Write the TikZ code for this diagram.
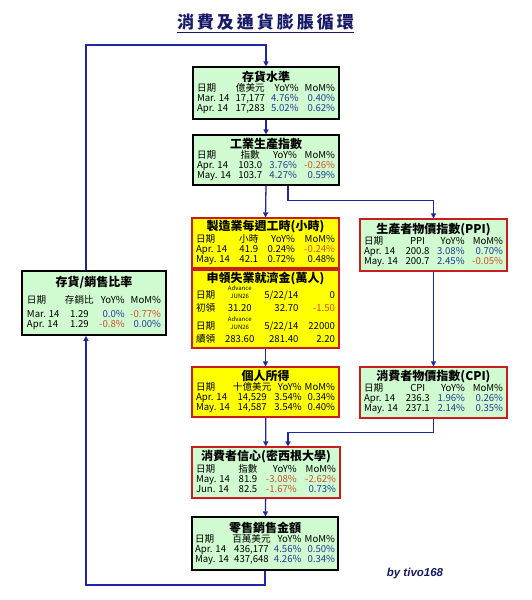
\documentclass[tikz,border=0pt]{standalone}
\usepackage{fontspec}
\setmainfont{Noto Sans CJK TC}
\newfontfamily\sigfont{Liberation Sans}
\usetikzlibrary{arrows.meta}

\definecolor{greenfill}{RGB}{208,250,208}
\definecolor{yellowfill}{RGB}{255,255,0}
\definecolor{boxred}{RGB}{200,30,30}
\definecolor{linkblue}{RGB}{30,40,160}
\definecolor{navy}{RGB}{25,25,105}
\definecolor{posblue}{RGB}{30,60,150}
\definecolor{negred}{RGB}{205,80,40}

\newcommand{\pv}[1]{\textcolor{posblue}{#1}}
\newcommand{\nv}[1]{\textcolor{negred}{#1}}
\newcommand{\adv}{{\fontsize{6}{6.5}\selectfont\shortstack{Advance\\JUN26}}}
\newcommand{\boxtable}[3]{%
  {\fontsize{12}{13}\selectfont\bfseries #2}\\[0pt]
  \setlength{\tabcolsep}{1pt}\renewcommand{\arraystretch}{0.86}%
  \begin{tabular*}{#1}{@{\extracolsep{\fill}}lcrr@{}}#3\end{tabular*}}

\begin{document}
\begin{tikzpicture}[x=1pt,y=-1pt,
  databox/.style={line width=1.2pt,inner sep=1pt,align=center,
    font=\fontsize{9.6}{11}\selectfont},
  greenbox/.style={databox,draw=black,fill=greenfill},
  redgreen/.style={databox,draw=boxred,fill=greenfill},
  yellowbox/.style={databox,draw=boxred,fill=yellowfill},
  link/.style={draw=linkblue,line width=1.3pt,-{Triangle[length=5pt,width=5pt]}}]
\useasboundingbox[fill=white] (0,0) rectangle (532,600);

% title
\node[inner sep=0pt,text=navy,font=\fontsize{17}{19}\selectfont\bfseries] (title) at (265.5,22)
  {消\kern3pt 費\kern3pt 及\kern3pt 通\kern3pt 貨\kern3pt 膨\kern3pt 脹\kern3pt 循\kern3pt 環};
\draw[navy,line width=1pt] ([yshift=-2pt]title.south west) -- ([yshift=-2pt]title.south east);

% boxes
\node[greenbox,minimum width=146pt,minimum height=52pt] (inv) at (266,93)
  {\boxtable{138pt}{存貨水準}{日期 & 億美元 & YoY\% & MoM\% \\
   Mar. 14 & 17,177 & \pv{4.76\%} & \pv{0.40\%} \\
   Apr. 14 & 17,283 & \pv{5.02\%} & \pv{0.62\%}}};
\node[greenbox,minimum width=146pt,minimum height=50pt] (ip) at (266,160)
  {\boxtable{138pt}{工業生產指數}{日期 & 指數 & YoY\% & MoM\% \\
   Apr. 14 & 103.0 & \pv{3.76\%} & \nv{-0.26\%} \\
   May. 14 & 103.7 & \pv{4.27\%} & \pv{0.59\%}}};
\node[yellowbox,minimum width=147pt,minimum height=50pt] (hours) at (265.5,243)
  {\boxtable{139pt}{製造業每週工時(小時)}{日期 & 小時 & YoY\% & MoM\% \\
   Apr. 14 & 41.9 & 0.24\% & \nv{-0.24\%} \\
   May. 14 & 42.1 & 0.72\% & 0.48\%}};
\node[yellowbox,minimum width=147pt,minimum height=78pt] (claims) at (265.5,309)
  {\boxtable{139pt}{申領失業就濟金(萬人)}{日期 & \adv & 5/22/14 & 0 \\[2.5pt]
   初領 & 31.20 & 32.70 & \nv{-1.50} \\[2.5pt]
   日期 & \adv & 5/22/14 & 22000 \\[2.5pt]
   續領 & 283.60 & 281.40 & 2.20}};
\node[redgreen,minimum width=147pt,minimum height=52pt] (ppi) at (433.5,245)
  {\boxtable{139pt}{生產者物價指數(PPI)}{日期 & PPI & YoY\% & MoM\% \\
   Apr. 14 & 200.8 & \pv{3.08\%} & \pv{0.70\%} \\
   May. 14 & 200.7 & \pv{2.45\%} & \nv{-0.05\%}}};
\node[greenbox,line width=1.8pt,minimum width=144pt,minimum height=64pt] (ratio) at (94,303)
  {\boxtable{134pt}{存貨/銷售比率}{\rule{0pt}{14pt}日期 & 存銷比 & YoY\% & MoM\% \\[4pt]
   Mar. 14 & 1.29 & \pv{0.0\%} & \nv{-0.77\%} \\
   Apr. 14 & 1.29 & \nv{-0.8\%} & \pv{0.00\%}}};
\node[yellowbox,minimum width=147pt,minimum height=50pt] (income) at (265.5,392)
  {\boxtable{139pt}{個人所得}{日期 & 十億美元 & YoY\% & MoM\% \\
   Apr. 14 & 14,529 & 3.54\% & 0.34\% \\
   May. 14 & 14,587 & 3.54\% & 0.40\%}};
\node[redgreen,minimum width=147pt,minimum height=51pt] (cpi) at (433.5,392.5)
  {\boxtable{139pt}{消費者物價指數(CPI)}{日期 & CPI & YoY\% & MoM\% \\
   Apr. 14 & 236.3 & \pv{1.96\%} & \pv{0.26\%} \\
   May. 14 & 237.1 & \pv{2.14\%} & \pv{0.35\%}}};
\node[redgreen,minimum width=148pt,minimum height=51pt] (conf) at (266,472.5)
  {\boxtable{140pt}{消費者信心(密西根大學)}{日期 & 指數 & YoY\% & MoM\% \\
   May. 14 & 81.9 & \nv{-3.08\%} & \nv{-2.62\%} \\
   Jun. 14 & 82.5 & \nv{-1.67\%} & \pv{0.73\%}}};
\node[greenbox,minimum width=146pt,minimum height=53pt] (retail) at (265,543.5)
  {\boxtable{140pt}{零售銷售金額}{日期 & 百萬美元 & YoY\% & MoM\% \\
   Apr. 14 & 436,177 & \pv{4.56\%} & \pv{0.50\%} \\
   May. 14 & 437,648 & \pv{4.26\%} & \pv{0.34\%}}};

\node[text=navy,font=\sigfont\bfseries\itshape\fontsize{11.5}{13}\selectfont] (sig) at (415,574) {by tivo168};

% connectors
\coordinate (topleft) at (86,45);
\coordinate (botleft) at (86,585);
\draw[link] (ratio.north -| topleft) -- (topleft) -| (inv.north);
\draw[link] (inv) -- (ip);
\draw[link] (ip.south) -- (hours.north);
\draw[link] ([xshift=22pt]ip.south) -- ++(0,15) -| (ppi.north);
\draw[link] (ppi) -- (cpi);
\draw[link] (claims) -- (income);
\draw[link] (income) -- (conf);
\draw[link] (cpi.south) -- ++(0,14) -| ([xshift=22pt]conf.north);
\draw[link] (conf) -- (retail);
\draw[link] (retail.south) |- (botleft) -- (ratio.south -| botleft);
\end{tikzpicture}
\end{document}
